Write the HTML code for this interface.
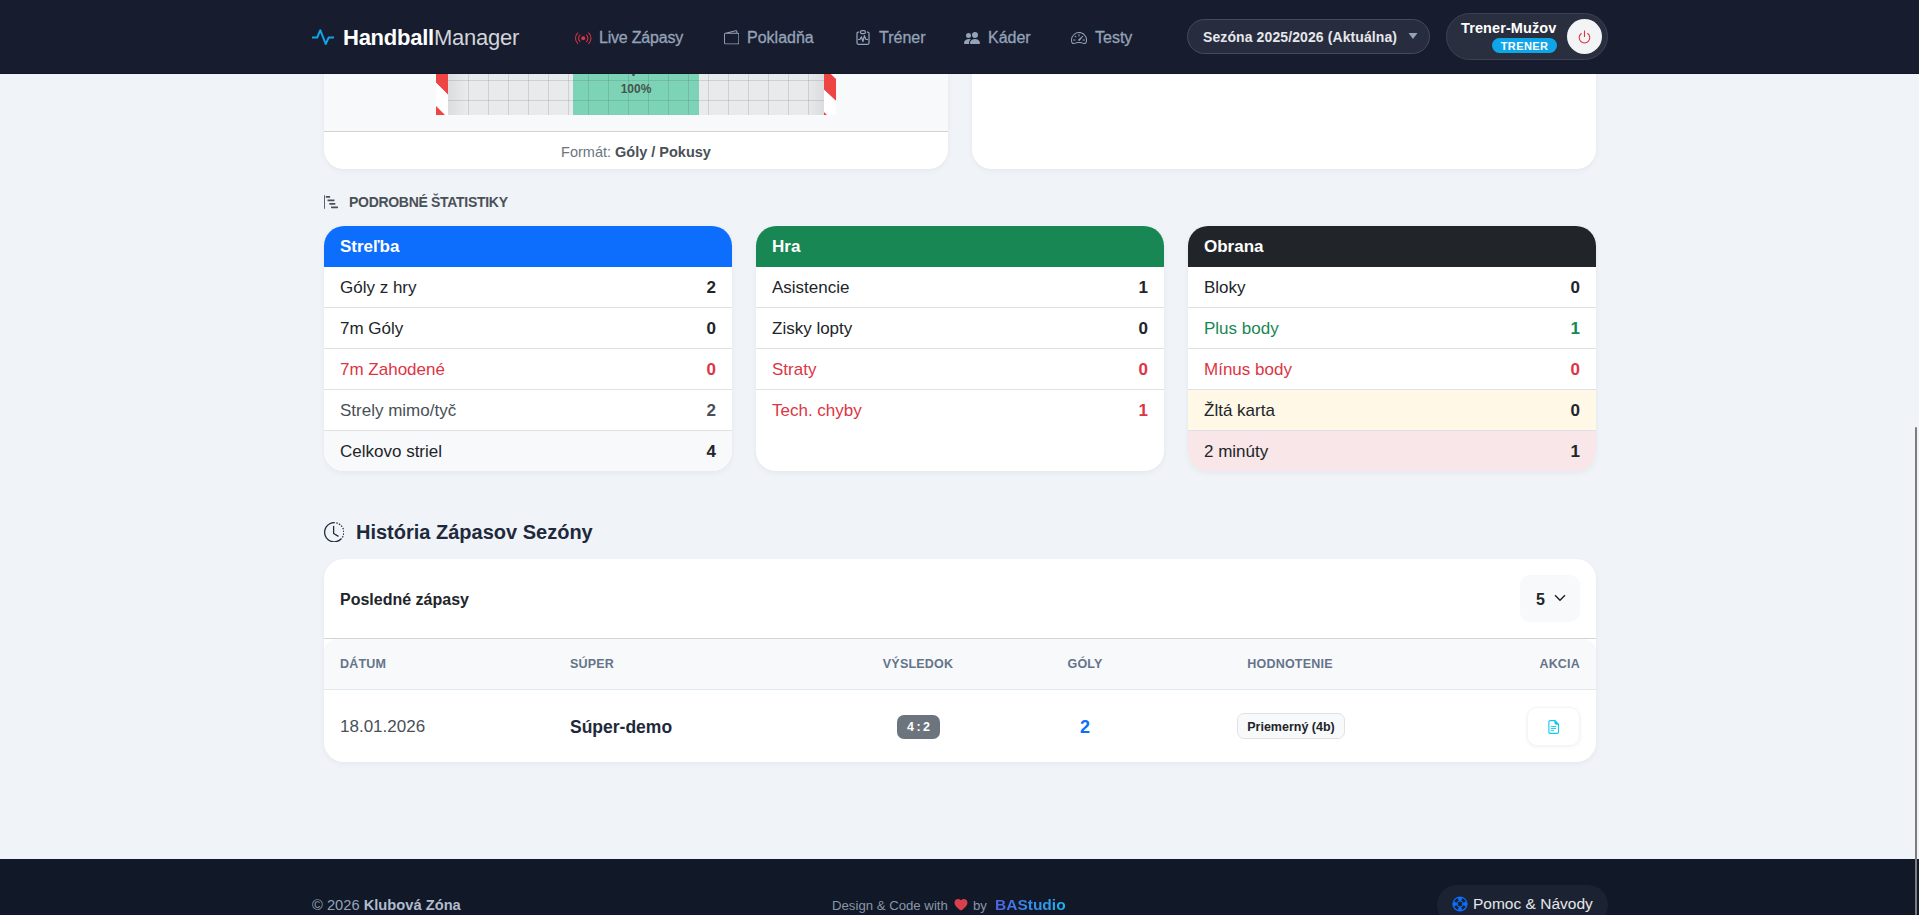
<!DOCTYPE html>
<html lang="sk">
<head>
<meta charset="utf-8">
<title>HandballManager</title>
<style>
*{box-sizing:border-box;margin:0;padding:0}
html,body{width:1919px;height:915px;overflow:hidden}
body{background:#f0f3f8;font-family:"Liberation Sans",sans-serif;color:#212529;position:relative}
.abs{position:absolute}
.nowrap{white-space:nowrap}
/* header */
#hdr{position:absolute;left:0;top:0;width:1919px;height:74px;background:#171c2e;border-bottom:1px solid #131829;z-index:10}
.brand{position:absolute;left:343px;top:22.5px;font-size:22px;line-height:30px;color:#fff;white-space:nowrap;letter-spacing:-0.25px}
.brand b{font-weight:700}
.brand span{color:#d1d5db;font-weight:400}
.nav{position:absolute;top:26px;font-size:16px;line-height:24px;color:#94a3b8;white-space:nowrap;-webkit-text-stroke:0.3px #94a3b8}
.pill{position:absolute;border:1px solid #454b5c;background:#272c3e;border-radius:999px}
/* cards */
.card{position:absolute;background:#fff;border-radius:20px;box-shadow:0 2px 6px rgba(15,23,42,.05)}
.sec{position:absolute;font-size:14px;font-weight:700;color:#495057;letter-spacing:-0.3px;white-space:nowrap}
.stat{position:absolute;top:226px;width:408px;height:245px;background:#fff;border-radius:20px;overflow:hidden;box-shadow:0 2px 6px rgba(15,23,42,.05)}
.stat .hd{height:41px;color:#fff;font-weight:700;font-size:17px;line-height:41px;padding-left:16px}
.stat .row{height:41px;border-bottom:1px solid #dee2e6;display:flex;justify-content:space-between;align-items:center;padding:0 16px;font-size:17px;line-height:24px}
.stat .row:last-child{border-bottom:none;height:40px}
.stat .row b{font-weight:700}
.stat .row span,.stat .row b{position:relative;top:1px}
.red{color:#dc3545}
.th{position:absolute;top:96px;font-size:12.5px;line-height:18px;font-weight:700;color:#64748b;letter-spacing:0.2px;white-space:nowrap}
.green{color:#198754}
.muted{color:#495057}
</style>
</head>
<body>
<!-- top cards (cut by header) -->
<div class="card" style="left:324px;top:-40px;width:624px;height:209px;overflow:hidden">
  <div class="abs" style="left:0;top:0;width:624px;height:172px;background:#f8f9fa;border-bottom:1px solid #d3d3d3"></div>
  <!-- goal grid -->
  <div class="abs" style="left:124px;top:0;width:376px;height:155px;background-color:#e9eaec;background-image:linear-gradient(90deg,rgba(0,0,0,.06),rgba(0,0,0,0) 18px,rgba(0,0,0,0) 358px,rgba(0,0,0,.06))"></div>
  <div class="abs" style="left:249px;top:0;width:126px;height:155px;background:#7dd3b6"></div>
  <svg class="abs" style="left:124px;top:0" width="376" height="155">
    <g stroke="rgba(60,60,60,.15)" stroke-width="1">
      <path d="M20.5 0v155M40.5 0v155M60.5 0v155M80.5 0v155M100.5 0v155M120.5 0v155M140.5 0v155M160.5 0v155M180.5 0v155M200.5 0v155M220.5 0v155M240.5 0v155M260.5 0v155M280.5 0v155M300.5 0v155M320.5 0v155M340.5 0v155M360.5 0v155"/>
      <path d="M0 120.5h376M0 140.5h376"/>
    </g>
  </svg>
  <div class="abs nowrap" id="pct" style="left:249px;top:122px;width:126px;text-align:center;font-size:12px;line-height:14px;font-weight:700;color:#44564f">100%</div>
  <div class="abs" style="left:307.5px;top:114px;width:3px;height:1.6px;background:#4a5464;border-radius:1px"></div>
  <svg class="abs" style="left:112px;top:114px" width="12" height="41" viewBox="436 74 12 41">
    <polygon points="436,74 448,74 448,94.8 436,82.8" fill="#ef4444"/>
    <polygon points="436,82.8 448,94.8 448,115 445,115 436,106" fill="#fff"/>
    <polygon points="436,106 445,115 436,115" fill="#ef4444"/>
  </svg>
  <svg class="abs" style="left:500px;top:114px" width="12" height="41" viewBox="824 74 12 41">
    <polygon points="830.8,74 836,74 836,79" fill="#fff"/>
    <polygon points="824,74 830.8,74 836,79 836,101 824,89.7" fill="#ef4444"/>
    <polygon points="824,89.7 836,101 836,115 827,115 824,112" fill="#fff"/>
    <polygon points="824,112 827,115 824,115" fill="#ef4444"/>
  </svg>
  <div class="abs nowrap" id="fmt" style="left:0;top:181.5px;width:624px;text-align:center;font-size:14.5px;line-height:20px;color:#6c757d">Formát: <b style="color:#495057">Góly / Pokusy</b></div>
</div>
<div class="card" style="left:972px;top:-40px;width:624px;height:209px"></div>

<!-- section title -->
<svg class="abs" style="left:324px;top:195px" width="14" height="14" viewBox="0 0 16 16" fill="#495057"><path d="M.5 0a.5.5 0 0 1 .5.5v15a.5.5 0 0 1-1 0V.5A.5.5 0 0 1 .5 0M2 1.5a.5.5 0 0 1 .5-.5h4a.5.5 0 0 1 .5.5v1a.5.5 0 0 1-.5.5h-4a.5.5 0 0 1-.5-.5zm2 4a.5.5 0 0 1 .5-.5h7a.5.5 0 0 1 .5.5v1a.5.5 0 0 1-.5.5h-7a.5.5 0 0 1-.5-.5zm2 4a.5.5 0 0 1 .5-.5h6a.5.5 0 0 1 .5.5v1a.5.5 0 0 1-.5.5h-6a.5.5 0 0 1-.5-.5zm2 4a.5.5 0 0 1 .5-.5h7a.5.5 0 0 1 .5.5v1a.5.5 0 0 1-.5.5h-7a.5.5 0 0 1-.5-.5z"/></svg>
<div class="sec" id="sec1" style="left:349px;top:193px;line-height:18px">PODROBNÉ ŠTATISTIKY</div>

<!-- stat cards -->
<div class="stat" style="left:324px">
  <div class="hd" style="background:#0d6efd">Streľba</div>
  <div class="row"><span>Góly z hry</span><b>2</b></div>
  <div class="row"><span>7m Góly</span><b>0</b></div>
  <div class="row red"><span>7m Zahodené</span><b>0</b></div>
  <div class="row muted"><span>Strely mimo/tyč</span><b>2</b></div>
  <div class="row" style="background:#f8f9fa"><span>Celkovo striel</span><b>4</b></div>
</div>
<div class="stat" style="left:756px">
  <div class="hd" style="background:#198754">Hra</div>
  <div class="row"><span>Asistencie</span><b>1</b></div>
  <div class="row"><span>Zisky lopty</span><b>0</b></div>
  <div class="row red"><span>Straty</span><b>0</b></div>
  <div class="row red" style="border-bottom:none"><span>Tech. chyby</span><b>1</b></div>
</div>
<div class="stat" style="left:1188px">
  <div class="hd" style="background:#212529">Obrana</div>
  <div class="row"><span>Bloky</span><b>0</b></div>
  <div class="row green"><span>Plus body</span><b>1</b></div>
  <div class="row red"><span>Mínus body</span><b>0</b></div>
  <div class="row" style="background:#fff8e6"><span>Žltá karta</span><b>0</b></div>
  <div class="row" style="background:#f8e6e8"><span>2 minúty</span><b>1</b></div>
</div>

<!-- history -->
<div class="abs nowrap" id="hist" style="left:356px;top:519px;font-size:20px;line-height:26px;font-weight:700;color:#1e293b">História Zápasov Sezóny</div>
<div class="card" style="left:324px;top:559px;width:1272px;height:203px;overflow:hidden">
  <div class="abs nowrap" id="posl" style="left:16px;top:29px;font-size:16px;line-height:24px;font-weight:700;color:#212529">Posledné zápasy</div>
  <div class="abs" style="left:0;top:79px;width:1272px;height:1px;background:#d3d3d3"></div>
  <div class="abs" style="left:0;top:80px;width:1272px;height:51px;background:#f8f9fa;border-bottom:1px solid #e2e8f0;border-radius:12px 12px 0 0"></div>
  <div class="abs" style="left:1196px;top:16px;width:60px;height:47px;border-radius:10px;background:#f8f9fa"></div>
  <div class="abs nowrap" id="sel5" style="left:1212px;top:29px;font-size:16px;line-height:24px;font-weight:700;color:#212529">5</div>
  <svg class="abs" style="left:1230px;top:35px" width="12" height="8" viewBox="0 0 12 8"><path d="M1 1.2l5 5 5-5" fill="none" stroke="#212529" stroke-width="1.5"/></svg>
  <div class="th" id="th1" style="left:16px">DÁTUM</div>
  <div class="th" id="th2" style="left:246px">SÚPER</div>
  <div class="th" id="th3" style="left:544px;width:100px;text-align:center">VÝSLEDOK</div>
  <div class="th" id="th4" style="left:711px;width:100px;text-align:center">GÓLY</div>
  <div class="th" id="th5" style="left:916px;width:100px;text-align:center">HODNOTENIE</div>
  <div class="th" id="th6" style="left:1156px;width:100px;text-align:right">AKCIA</div>
  <div class="abs nowrap" id="date" style="left:16px;top:156px;font-size:17px;line-height:24px;color:#495057">18.01.2026</div>
  <div class="abs nowrap" id="opp" style="left:246px;top:155.5px;font-size:17.5px;line-height:24px;font-weight:700;color:#1e293b">Súper-demo</div>
  <div class="abs nowrap" id="score" style="left:573px;top:156px;width:43px;height:24px;border-radius:7px;background:#6c757d;color:#fff;font-size:12.5px;line-height:24px;font-weight:700;text-align:center;letter-spacing:0px;word-spacing:-1px">4 : 2</div>
  <div class="abs nowrap" id="goals" style="left:711px;top:155.5px;width:100px;text-align:center;font-size:18px;line-height:24px;font-weight:700;color:#0d6efd">2</div>
  <div class="abs nowrap" id="rate" style="left:913px;top:154px;width:108px;height:26px;border-radius:7px;background:#f8f9fa;border:1px solid #dee2e6;color:#212529;font-size:12.5px;line-height:26px;font-weight:700;text-align:center">Priemerný (4b)</div>
  <div class="abs" style="left:1203px;top:148px;width:53px;height:39px;border-radius:10px;background:#fff;box-shadow:0 1px 4px rgba(0,0,0,.06);border:1px solid #f3f4f6"></div>
  <svg class="abs" style="left:1222px;top:159px" width="16" height="18" viewBox="0 0 16 18" fill="none" stroke="#0dcaf0"><path d="M8.9 2.6H4.1A1.2 1.2 0 0 0 2.9 3.8V14.2A1.2 1.2 0 0 0 4.1 15.4H11.3A1.2 1.2 0 0 0 12.5 14.2V6.2Z" stroke-width="1.1" stroke-linejoin="round"/><path d="M8.9 2.6V5.2A1 1 0 0 0 9.9 6.2H12.5Z" fill="#0dcaf0" stroke-width="0.8"/><path d="M5.2 8.5H9.8M5.2 10.5H9.8M5.2 12.4H7.6" stroke-width="0.9" stroke-linecap="round"/></svg>
</div>
<svg class="abs" style="left:323.5px;top:521.5px" width="20.5" height="20.5" viewBox="0 0 16 16" fill="#1e293b"><path d="M8.515 1.019A7 7 0 0 0 8 1V0a8 8 0 0 1 .589.022zm2.004.45a7 7 0 0 0-.985-.299l.219-.976q.576.129 1.126.342zm1.37.71a7 7 0 0 0-.439-.27l.493-.87a8 8 0 0 1 .979.654l-.615.789a7 7 0 0 0-.418-.302zm1.834 1.79a7 7 0 0 0-.653-.796l.724-.69q.406.429.747.91zm.744 1.352a7 7 0 0 0-.214-.468l.893-.45a8 8 0 0 1 .45 1.088l-.95.313a7 7 0 0 0-.179-.483m.53 2.507a7 7 0 0 0-.1-1.025l.985-.17q.1.58.116 1.17zm-.131 1.538q.05-.254.081-.51l.993.123a8 8 0 0 1-.23 1.155l-.964-.267q.069-.247.12-.501m-.952 2.379q.276-.436.486-.908l.914.405q-.24.54-.555 1.038zm-.964 1.205q.183-.183.35-.378l.758.653a8 8 0 0 1-.401.432z"/><path d="M8 1a7 7 0 1 0 4.95 11.95l.707.707A8.001 8.001 0 1 1 8 0z"/><path d="M7.5 3a.5.5 0 0 1 .5.5v5.21l3.248 1.856a.5.5 0 0 1-.496.868l-3.5-2A.5.5 0 0 1 7 9V3.5a.5.5 0 0 1 .5-.5"/></svg>

<!-- footer -->
<div class="abs" style="left:0;top:859px;width:1919px;height:56px;background:#111827">
  <div class="abs nowrap" id="copy" style="left:312px;top:36px;font-size:14.7px;line-height:20px;color:#94a3b8">© 2026 <b style="color:#b0bccd">Klubová Zóna</b></div>
  <div class="abs nowrap" id="design" style="left:832px;top:37.5px;font-size:13.2px;line-height:18px;color:#8a96a8">Design &amp; Code with</div>
  <svg class="abs" style="left:954px;top:38.5px" width="14" height="13" viewBox="0 0 16 15"><path d="M8 14.5C-6 5.5 3-2 8 2.5 13-2 22 5.5 8 14.5z" fill="#d9404c"/></svg>
  <div class="abs nowrap" id="by" style="left:973px;top:37.5px;font-size:13.2px;line-height:18px;color:#8a96a8">by</div>
  <div class="abs nowrap" id="bas" style="left:995px;top:36px;font-size:15.5px;line-height:20px;font-weight:700;background:linear-gradient(90deg,#4f63e8,#20b2ef);-webkit-background-clip:text;background-clip:text;color:transparent">BAStudio</div>
  <div class="abs" style="left:1437px;top:26px;width:171px;height:40px;border-radius:20px;background:#1b2232"></div>
  <svg class="abs" style="left:1451.5px;top:37px" width="16" height="16" viewBox="0 0 16 16"><circle cx="8" cy="8" r="7.6" fill="#0d6efd"/><circle cx="8" cy="8" r="2.4" fill="#1b2232"/><path d="M11.27 9.25L13.88 10.26A6.3 6.3 0 0 1 10.26 13.88L9.25 11.27A3.5 3.5 0 0 0 11.27 9.25ZM6.75 11.27L5.74 13.88A6.3 6.3 0 0 1 2.12 10.26L4.73 9.25A3.5 3.5 0 0 0 6.75 11.27ZM4.73 6.75L2.12 5.74A6.3 6.3 0 0 1 5.74 2.12L6.75 4.73A3.5 3.5 0 0 0 4.73 6.75ZM9.25 4.73L10.26 2.12A6.3 6.3 0 0 1 13.88 5.74L11.27 6.75A3.5 3.5 0 0 0 9.25 4.73Z" fill="#1b2232"/></svg>
  <div class="abs nowrap" id="help" style="left:1473px;top:35px;font-size:15.5px;line-height:20px;color:#e5e7eb">Pomoc &amp; Návody</div>
</div>
<div class="abs" style="left:1915px;top:427px;width:2px;height:488px;border-radius:1px;background:#7c7c7c;z-index:20"></div>

<!-- header -->
<div id="hdr">
  <svg class="abs" style="left:311px;top:26px" width="24" height="22" viewBox="0 0 24 22"><polyline points="1,11.5 6.2,11.5 9.3,4.2 14.7,18 17.7,11.5 23,11.5" fill="none" stroke="#0ea5e9" stroke-width="2" stroke-linejoin="round" stroke-linecap="butt"/></svg>
  <div class="brand" id="brand"><b>Handball</b><span>Manager</span></div>
  <!-- live -->
  <svg class="abs" style="left:575px;top:30px" width="16.5" height="16.5" viewBox="0 0 16 16" fill="#dc3545"><path d="M3.05 3.05a7 7 0 0 0 0 9.9.5.5 0 0 1-.707.707 8 8 0 0 1 0-11.314.5.5 0 0 1 .707.707m2.122 2.122a4 4 0 0 0 0 5.656.5.5 0 1 1-.708.708 5 5 0 0 1 0-7.072.5.5 0 0 1 .708.708m5.656-.708a.5.5 0 0 1 .708 0 5 5 0 0 1 0 7.072.5.5 0 1 1-.708-.708 4 4 0 0 0 0-5.656.5.5 0 0 1 0-.708m2.122-2.12a.5.5 0 0 1 .707 0 8 8 0 0 1 0 11.313.5.5 0 0 1-.707-.707 7 7 0 0 0 0-9.9.5.5 0 0 1 0-.707zM10 8a2 2 0 1 1-4 0 2 2 0 0 1 4 0"/></svg>
  <div class="nav" id="nav1" style="left:599px;letter-spacing:-0.2px">Live Zápasy</div>
  <!-- wallet -->
  <svg class="abs" style="left:724px;top:30px" width="15.3" height="15.3" viewBox="0 0 16 16" fill="#94a3b8"><path d="M12.136.326A1.5 1.5 0 0 1 14 1.78V3h.5A1.5 1.5 0 0 1 16 4.5v9a1.5 1.5 0 0 1-1.5 1.5h-13A1.5 1.5 0 0 1 0 13.5v-9a1.5 1.5 0 0 1 1.432-1.499zM5.562 3H13V1.78a.5.5 0 0 0-.621-.484zM1.5 4a.5.5 0 0 0-.5.5v9a.5.5 0 0 0 .5.5h13a.5.5 0 0 0 .5-.5v-9a.5.5 0 0 0-.5-.5z"/></svg>
  <div class="nav" id="nav2" style="left:747px">Pokladňa</div>
  <!-- clipboard pulse -->
  <svg class="abs" style="left:852px;top:27px" width="22" height="22" viewBox="0 0 22 22" fill="none" stroke="#94a3b8" stroke-width="1.25"><path d="M7.2 5H6.2A1.2 1.2 0 0 0 5 6.2V16.1A1.2 1.2 0 0 0 6.2 17.3H15.8A1.2 1.2 0 0 0 17 16.1V6.2A1.2 1.2 0 0 0 15.8 5H14.8"/><rect x="8.5" y="3.6" width="4.9" height="3" rx="1.3"/><polyline points="6.6,12.5 8,12.3 9.4,9.8 10.9,14.6 12.4,8.6 13.8,12.3 15.6,12.5" stroke-linejoin="round" stroke-linecap="round"/></svg>
  <div class="nav" id="nav3" style="left:879px">Tréner</div>
  <!-- people -->
  <svg class="abs" style="left:964px;top:30px" width="16" height="16" viewBox="0 0 16 16" fill="#94a3b8"><path d="M7 14s-1 0-1-1 1-4 5-4 5 3 5 4-1 1-1 1zm4-6a3 3 0 1 0 0-6 3 3 0 0 0 0 6m-5.784 6A2.24 2.24 0 0 1 5 13c0-1.355.68-2.75 1.936-3.72A6.3 6.3 0 0 0 5 9c-4 0-5 3-5 4s1 1 1 1zM4.5 8a2.5 2.5 0 1 0 0-5 2.5 2.5 0 0 0 0 5"/></svg>
  <div class="nav" id="nav4" style="left:988px">Káder</div>
  <!-- speedometer -->
  <svg class="abs" style="left:1071px;top:30px" width="16" height="16" viewBox="0 0 16 16" fill="#94a3b8"><path d="M8 4a.5.5 0 0 1 .5.5V6a.5.5 0 0 1-1 0V4.5A.5.5 0 0 1 8 4M3.732 5.732a.5.5 0 0 1 .707 0l.915.914a.5.5 0 1 1-.708.708l-.914-.915a.5.5 0 0 1 0-.707M2 10a.5.5 0 0 1 .5-.5h1.586a.5.5 0 0 1 0 1H2.5A.5.5 0 0 1 2 10m9.5 0a.5.5 0 0 1 .5-.5h1.5a.5.5 0 0 1 0 1H12a.5.5 0 0 1-.5-.5m.754-4.246a.39.39 0 0 0-.527-.02L7.547 9.31a.91.91 0 1 0 1.302 1.258l3.434-4.297a.39.39 0 0 0-.029-.518z"/><path fill-rule="evenodd" d="M0 10a8 8 0 1 1 15.547 2.661c-.442 1.253-1.845 1.602-2.932 1.25C11.309 13.488 9.475 13 8 13c-1.474 0-3.31.488-4.615.911-1.087.352-2.49.003-2.932-1.25A8 8 0 0 1 0 10m8-7a7 7 0 0 0-6.603 9.329c.203.575.923.876 1.68.63C4.397 12.533 6.358 12 8 12s3.604.532 4.923.96c.757.245 1.477-.056 1.68-.631A7 7 0 0 0 8 3"/></svg>
  <div class="nav" id="nav5" style="left:1095px">Testy</div>
  <!-- season pill -->
  <div class="pill" style="left:1187px;top:19px;width:243px;height:35px"></div>
  <div class="abs nowrap" id="season" style="left:1203px;top:27px;font-size:14px;line-height:20px;font-weight:700;color:#e5e7eb;letter-spacing:0.1px">Sezóna 2025/2026 (Aktuálna)</div>
  <svg class="abs" style="left:1408px;top:32px" width="10" height="8" viewBox="0 0 10 8"><path d="M0.5 1h9L5 7z" fill="#94a3b8"/></svg>
  <!-- user pill -->
  <div class="pill" style="left:1446px;top:13px;width:162px;height:47px;background:#2a2f3f;border-color:#3d4252"></div>
  <div class="abs nowrap" id="uname" style="left:1461px;top:18px;font-size:14.5px;line-height:20px;font-weight:700;color:#fff;letter-spacing:0.1px">Trener-Mužov</div>
  <div class="abs nowrap" id="badge" style="left:1492px;top:38px;width:65px;height:15px;border-radius:8px;background:#0ea5e9;color:#fff;font-size:11px;line-height:16px;font-weight:700;text-align:center;letter-spacing:0.4px">TRENER</div>
  <div class="abs" style="left:1567px;top:19px;width:35px;height:35px;border-radius:50%;background:#f3f4f6"></div>
  <svg class="abs" style="left:1578px;top:30px" width="13" height="14" viewBox="0 0 13 14" fill="none" stroke="#dc3545" stroke-width="1.1"><path d="M6.5 0.5v6.5"/><path d="M3.6 3.2A5.3 5.3 0 1 0 9.4 3.2"/></svg>
</div>
</body>
</html>
